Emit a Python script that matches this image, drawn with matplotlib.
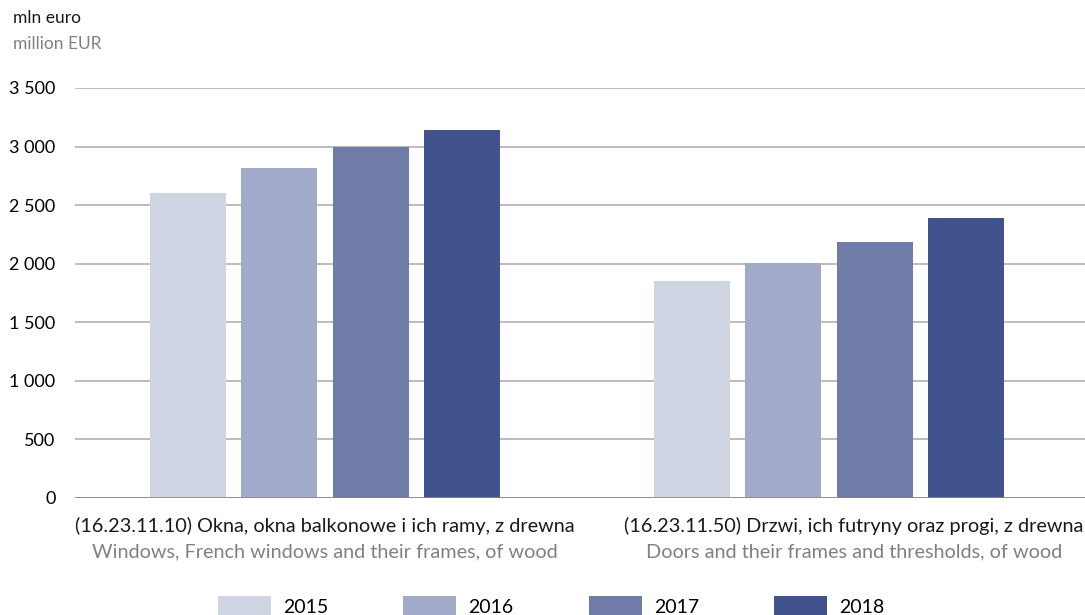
import matplotlib.pyplot as plt
import numpy as np

plt.rcParams["font.family"] = ["Lato", "DejaVu Sans"]

years = ["2015", "2016", "2017", "2018"]
cat_pl = [
    "(16.23.11.10) Okna, okna balkonowe i ich ramy, z drewna",
    "(16.23.11.50) Drzwi, ich futryny oraz progi, z drewna",
]
cat_en = [
    "Windows, French windows and their frames, of wood",
    "Doors and their frames and thresholds, of wood",
]
values = {
    "2015": [2605, 1852],
    "2016": [2817, 2006],
    "2017": [2995, 2185],
    "2018": [3140, 2390],
}
colors = ["#cfd5e2", "#a1aac8", "#6f7ca8", "#42528c"]
yticks = [0, 500, 1000, 1500, 2000, 2500, 3000, 3500]
ytick_labels = ["0", "500", "1 000", "1 500", "2 000", "2 500", "3 000", "3 500"]

fig = plt.figure(figsize=(10.85, 6.15), dpi=100)
ax = fig.add_axes([75 / 1085, 1 - 498 / 615, 1 - 75 / 1085, 410 / 615])

x = np.arange(len(cat_pl))
step = 0.1815
width = 0.151
for i, yr in enumerate(years):
    ax.bar(x + (i - 1.5) * step, values[yr], width=width, color=colors[i],
           label=yr, zorder=3)

ax.set_ylim(0, 3500)
ax.set_xlim(-0.496, 1.508)
ax.set_yticks(yticks)
ax.set_yticklabels(ytick_labels, fontsize=13)
ax.yaxis.grid(True, color="#aaaaaa", linewidth=1.1, zorder=0)
ax.tick_params(axis="y", length=0, pad=14)
ax.tick_params(axis="x", length=0)
ax.set_xticks([])
for s in ax.spines.values():
    s.set_visible(False)
ax.axhline(0, color="#888888", linewidth=1.2, zorder=4)

# second label sits a bit right of its bars in the original
label_shift = [0, 18]
for xi, pl, en, dx in zip(x, cat_pl, cat_en, label_shift):
    ax.annotate(pl, xy=(xi, 0), xytext=(dx, -20), textcoords="offset points",
                ha="center", va="center", fontsize=14.3, color="#1a1a1a",
                annotation_clip=False)
    ax.annotate(en, xy=(xi, 0), xytext=(dx, -39), textcoords="offset points",
                ha="center", va="center", fontsize=14.3, color="#808080",
                annotation_clip=False)

fig.text(13 / 1085, 1 - 18 / 615, "mln euro", fontsize=12.5, color="#1a1a1a",
         va="center")
fig.text(13 / 1085, 1 - 44 / 615, "million EUR", fontsize=12.5, color="#808080",
         va="center")

leg = fig.legend(loc="center", bbox_to_anchor=(551 / 1085, 1 - 606 / 615),
                 bbox_transform=fig.transFigure, ncol=4, frameon=False,
                 fontsize=14, handlelength=2.73, handleheight=1.2,
                 columnspacing=3.86, handletextpad=0.62, borderpad=0)

fig.savefig("out.png", dpi=100)
